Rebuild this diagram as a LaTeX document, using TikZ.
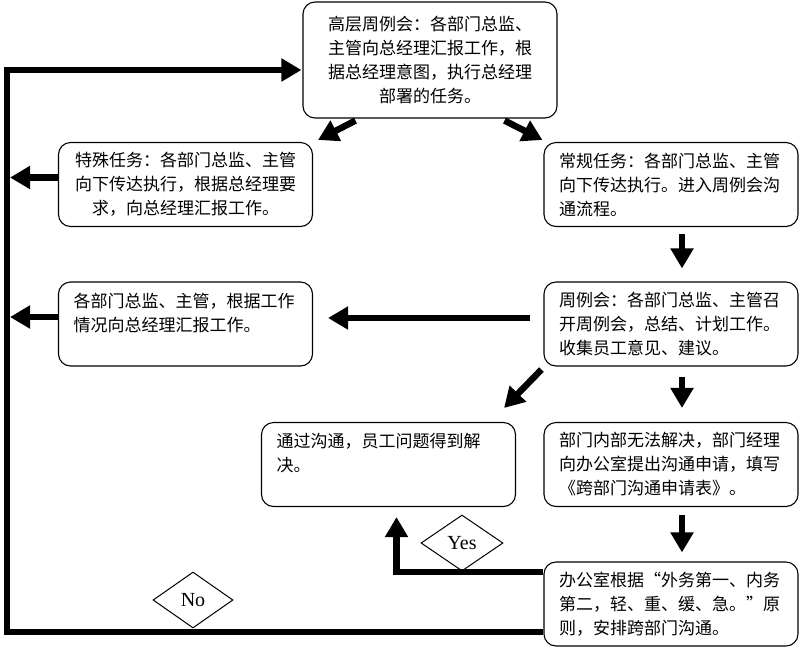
\documentclass[tikz,border=0pt]{standalone}
\usepackage{fontspec}
\setmainfont{Liberation Serif}
\newfontfamily\cjk{Noto Sans CJK SC}
\usetikzlibrary{arrows.meta,calc,shapes.geometric}
\begin{document}
\begin{tikzpicture}[x=1pt,y=-1pt,
  box/.style={draw,rounded corners=12pt,line width=1.1pt,inner xsep=15pt,inner ysep=0pt,
    text width=224pt,minimum width=254pt,minimum height=84pt,
    font=\cjk\fontsize{17}{24}\selectfont},
  lbox/.style={box,align=left},
  cbox/.style={box,align=center},
  arr/.style={line width=6.5pt,-{Triangle[length=20pt,width=22pt]}},
  dia/.style={draw,diamond,line width=1pt,inner sep=0pt,font=\fontsize{20}{22}\selectfont}]
\useasboundingbox (0,0) rectangle (800,649);
\fill[white] (0,0) rectangle (800,649);

\node[cbox,minimum height=116pt] (top) at (430,60) {高层周例会：各部门总监、\\主管向总经理汇报工作，根\\据总经理意图，执行总经理\\部署的任务。};
\node[cbox] (special) at (185.5,184.5) {特殊任务：各部门总监、主管\\向下传达执行，根据总经理要\\求，向总经理汇报工作。};
\node[lbox] (regular) at (671,184.5) {常规任务：各部门总监、主管\\向下传达执行。进入周例会沟\\通流程。};
\node[lbox] (box4) at (185.5,324) {各部门总监、主管，根据工作\\情况向总经理汇报工作。\\\mbox{}};
\node[lbox] (weekly) at (671,324) {周例会：各部门总监、主管召\\开周例会，总结、计划工作。\\收集员工意见、建议。};
\node[lbox] (resolved) at (388.5,464.5) {通过沟通，员工问题得到解\\决。\\\mbox{}};
\node[lbox] (dept) at (671,464.5) {部门内部无法解决，部门经理\\向办公室提出沟通申请，填写\\《跨部门沟通申请表》。};
\node[lbox] (office) at (671,604) {办公室根据“外务第一、内务\\第二，轻、重、缓、急。”原\\则，安排跨部门沟通。};

\node[dia,minimum width=82pt,minimum height=56pt] (yes) at (462,543) {Yes};
\node[dia,minimum width=80pt,minimum height=56pt] (no) at (193,600) {No};

\coordinate (corner) at (7,70);
\coordinate (lx) at (10,0);
\path ($(special.west)+(0,-7)$) coordinate (s1);
\path ($(box4.west)+(0,-7)$) coordinate (s2);

% top splits
\draw[arr] ($(top.south west)+(53,2)$) -- ($(special.north east)+(5,-2)$);
\draw[arr] ($(top.south east)+(-53,2)$) -- ($(regular.north west)+(-1,-2)$);
% vertical chain
\draw[arr] ($(regular.south)+(11,7)$) -- ($(weekly.north)+(11,-13)$);
\draw[arr] ($(weekly.south)+(11,10)$) -- ($(dept.north)+(11,-14)$);
\draw[arr] ($(dept.south)+(11,8)$) -- ($(office.north)+(11,-9)$);
% weekly to left boxes
\draw[arr] ($(weekly.west)+(-13,-6)$) -- ($(box4.east)+(15,-6)$);
\draw[arr] ($(weekly.south west)+(-2,3)$) -- ($(resolved.north east)+(-12,-14)$);
% report arrows to left line
\draw[arr] (s1) -- (s1 -| lx);
\draw[arr] (s2) -- (s2 -| lx);
% yes path
\draw[arr] ($(office.west)+(0,-32)$) -| ($(resolved.south)+(8,10)$);
% no path
\draw[arr] ($(office.west)+(0,28)$) -| (corner) -- ($(top.west)+(-1,10)$);
\end{tikzpicture}
\end{document}
